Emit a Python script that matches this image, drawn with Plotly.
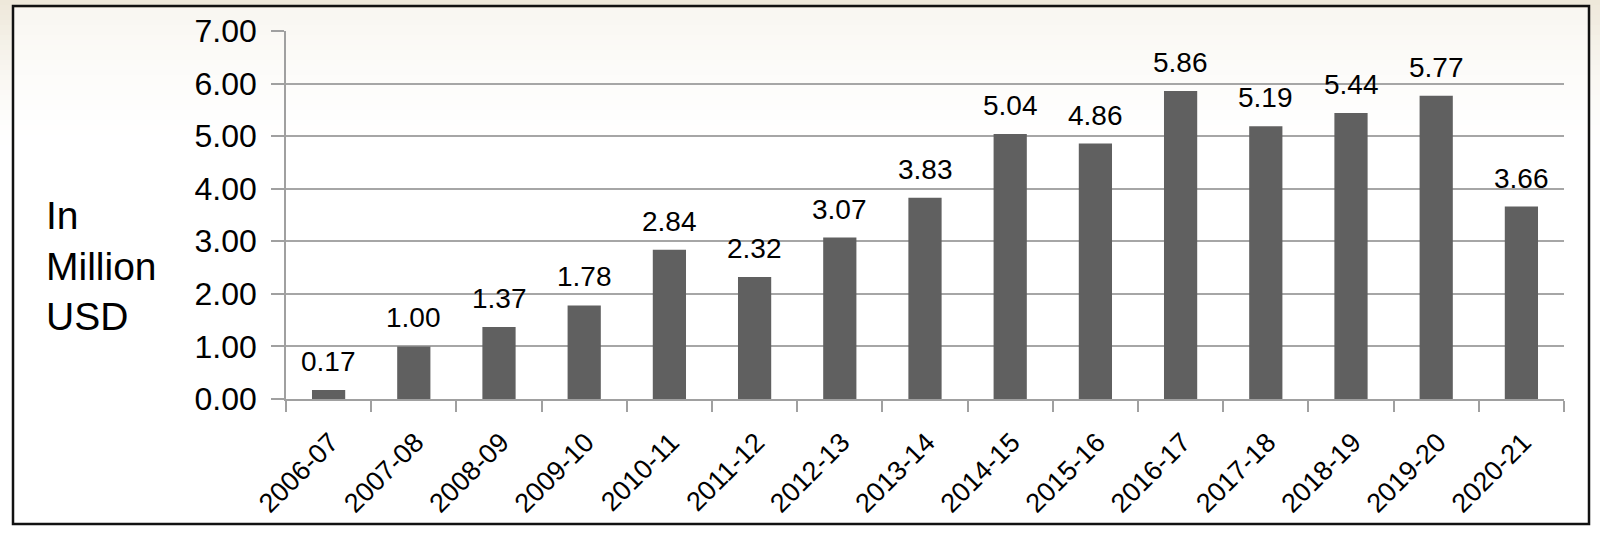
import plotly.graph_objects as go

years = ["2006-07", "2007-08", "2008-09", "2009-10", "2010-11", "2011-12", "2012-13",
         "2013-14", "2014-15", "2015-16", "2016-17", "2017-18", "2018-19", "2019-20", "2020-21"]
values = [0.17, 1.00, 1.37, 1.78, 2.84, 2.32, 3.07, 3.83, 5.04, 4.86, 5.86, 5.19, 5.44, 5.77, 3.66]
y_ticks = [0, 1, 2, 3, 4, 5, 6, 7]
y_title = "In<br>Million<br>USD"

W, H = 1600, 538
L, R, T, B = 286, 1564, 31, 399
FONT = "Liberation Sans, Arial, sans-serif"


def px_x(p):
    return (p - L) / (R - L)


def px_y(p):
    return (B - p) / (B - T)


fig = go.Figure()
fig.add_trace(go.Bar(
    x=years, y=values,
    marker=dict(color="#606060", line=dict(width=0)),
    hoverinfo="x+y",
))

shapes = []
# subtle warm gradient background at top
n = 30
for i in range(n):
    y0 = i * 150 / n
    y1 = (i + 1) * 150 / n
    op = (1 - i / n) ** 1.5
    shapes.append(dict(type="rect", xref="paper", yref="paper", layer="below",
                       x0=px_x(0), x1=px_x(W), y0=px_y(y1), y1=px_y(y0),
                       fillcolor="rgba(238,232,218,%.3f)" % op, line=dict(width=0)))
# lighter inside the frame
shapes.append(dict(type="rect", xref="paper", yref="paper", layer="below",
                   x0=px_x(14), x1=px_x(1588), y0=px_y(523), y1=px_y(8),
                   fillcolor="rgba(255,255,255,0.6)", line=dict(width=0)))
# frame
shapes.append(dict(type="rect", xref="paper", yref="paper", layer="above",
                   x0=px_x(13), x1=px_x(1589), y0=px_y(524), y1=px_y(6),
                   line=dict(color="#111111", width=2.5)))

annotations = [dict(text=y_title, xref="paper", yref="paper",
                    x=px_x(44), y=px_y(266), xanchor="left", yanchor="middle",
                    align="left", showarrow=False,
                    font=dict(family=FONT, size=39, color="#000000"))]
for yr, v in zip(years, values):
    annotations.append(dict(text="%.2f" % v, x=yr, y=v, xref="x", yref="y",
                            yanchor="bottom", xanchor="center", showarrow=False, yshift=11,
                            font=dict(family=FONT, size=28, color="#000000")))

fig.update_layout(
    width=W, height=H,
    margin=dict(l=L, r=W - R, t=T, b=H - B, pad=0),
    paper_bgcolor="#ffffff",
    plot_bgcolor="rgba(0,0,0,0)",
    bargap=0.61,
    showlegend=False,
    font=dict(family=FONT, color="#000000"),
    shapes=shapes,
    annotations=annotations,
    xaxis=dict(
        type="category",
        tickangle=-45,
        tickfont=dict(family=FONT, size=27, color="#000000"),
        showline=True, linecolor="#a0a0a0", linewidth=1.5,
        ticks="outside", tickson="boundaries", ticklen=11, tickcolor="#a0a0a0", tickwidth=1.5,
        ticklabelstandoff=15, ticklabelshift=2,
        showgrid=False,
        zeroline=False,
        automargin=False,
    ),
    yaxis=dict(
        range=[0, 7],
        tickvals=y_ticks,
        tickformat=".2f",
        tickfont=dict(family=FONT, size=32, color="#000000"),
        showline=True, linecolor="#a0a0a0", linewidth=1.5,
        ticks="outside", ticklen=13, tickcolor="#a0a0a0", tickwidth=1.5,
        ticklabelstandoff=8,
        showgrid=True, gridcolor="#a6a6a6", gridwidth=1.5,
        zeroline=False,
        automargin=False,
    ),
)

fig.write_html("out.html", config={"displayModeBar": False},
               post_script="document.body.style.margin='0';")
